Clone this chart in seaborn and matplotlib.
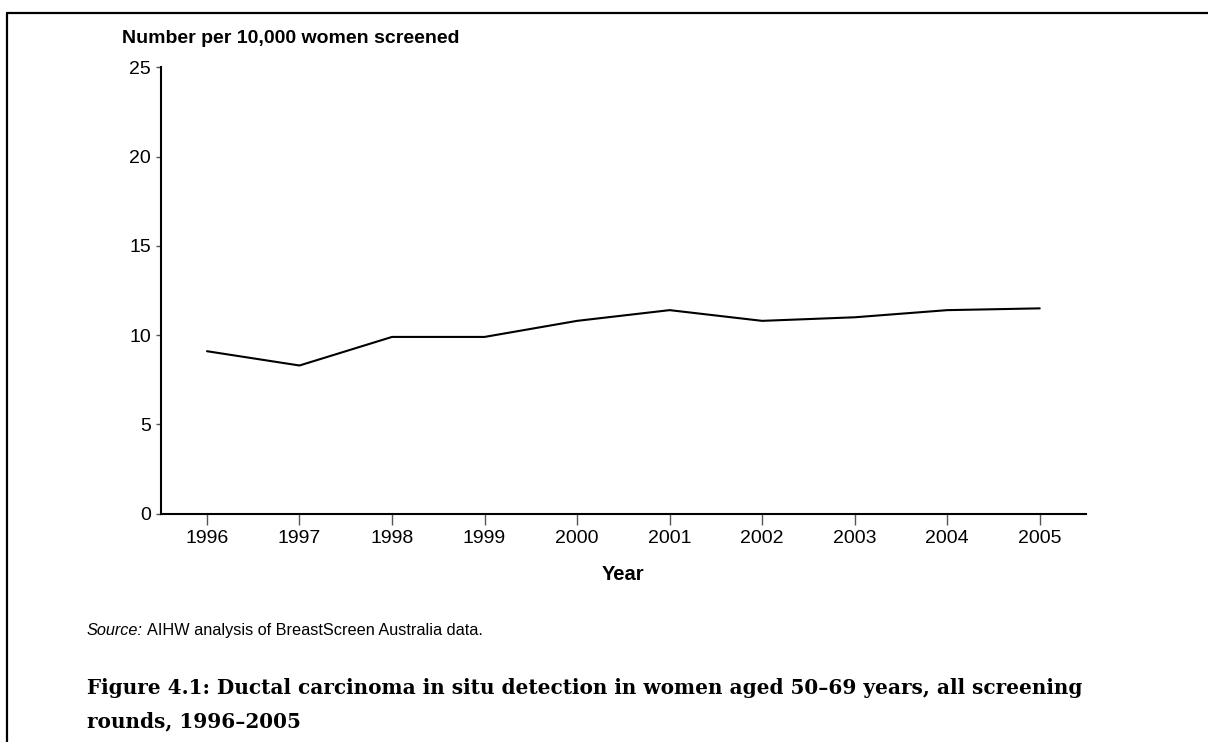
import numpy as np
import pandas as pd
import matplotlib
matplotlib.use("Agg")
import matplotlib.pyplot as plt
import seaborn as sns
from matplotlib.lines import Line2D

# Data
years = [1996, 1997, 1998, 1999, 2000, 2001, 2002, 2003, 2004, 2005]
dcis_rate = [9.1, 8.3, 9.9, 9.9, 10.8, 11.4, 10.8, 11.0, 11.4, 11.5]
y_ticks = [0, 5, 10, 15, 20, 25]

df = pd.DataFrame({"Year": years, "Rate": dcis_rate})

sns.set_style("white")
plt.rcParams["font.family"] = ["Liberation Sans", "DejaVu Sans"]
plt.rcParams["text.color"] = "black"
plt.rcParams["xtick.color"] = "black"
plt.rcParams["ytick.color"] = "black"

W, H = 1208, 742
fig = plt.figure(figsize=(W / 100, H / 100), dpi=100)
ax = fig.add_axes([160.7 / W, 1 - 513.7 / H, (1086 - 160.7) / W, (513.7 - 67.3) / H])

sns.lineplot(data=df, x="Year", y="Rate", ax=ax, color="black", linewidth=1.5)

ax.set_xlim(1995.5, 2005.5)
ax.set_ylim(0, 25)
ax.set_xticks(years)
ax.set_xticklabels([str(y) for y in years])
ax.set_yticks(y_ticks)
ax.set_xlabel("")
ax.set_ylabel("")

for side in ["top", "right"]:
    ax.spines[side].set_visible(False)
for side in ["left", "bottom"]:
    ax.spines[side].set_color("black")
    ax.spines[side].set_linewidth(1.5)

ax.tick_params(axis="x", direction="out", length=8, width=1, color="#555555",
               labelsize=14, pad=4, bottom=True)
ax.tick_params(axis="y", direction="out", length=3.6, width=1, color="#555555",
               labelsize=14, pad=3.5, left=True)

# Axis titles
fig.text(122 / W, 1 - 43 / H, "Number per 10,000 women screened", fontsize=14,
         fontweight="bold", va="baseline", ha="left")
fig.text(623.4 / W, 1 - 580 / H, "Year", fontsize=14.5, fontweight="bold",
         va="baseline", ha="center")

# Source note: italic label followed by plain text
src = fig.text(87 / W, 1 - 635 / H, "Source:", fontsize=11.7, style="italic",
               va="baseline", ha="left")
fig.canvas.draw()
bb = src.get_window_extent()
fig.text((bb.x1 + 4) / W, 1 - 635 / H, "AIHW analysis of BreastScreen Australia data.",
         fontsize=11.7, va="baseline", ha="left")

# Figure caption
cap_font = ["DejaVu Serif"]
fig.text(87 / W, 1 - 694 / H,
         "Figure 4.1: Ductal carcinoma in situ detection in women aged 50\u201369 years, all screening",
         fontsize=14.4, fontweight="bold", family=cap_font, va="baseline", ha="left")
fig.text(87 / W, 1 - 727 / H, "rounds, 1996\u20132005",
         fontsize=14.4, fontweight="bold", family=cap_font, va="baseline", ha="left")

# Page border (top and left)
fig.add_artist(Line2D([7 / W, 1], [1 - 13 / H, 1 - 13 / H], color="black", linewidth=1.6,
                      transform=fig.transFigure))
fig.add_artist(Line2D([7 / W, 7 / W], [0, 1 - 13 / H], color="black", linewidth=1.6,
                      transform=fig.transFigure))

fig.savefig("out.png", dpi=100)
